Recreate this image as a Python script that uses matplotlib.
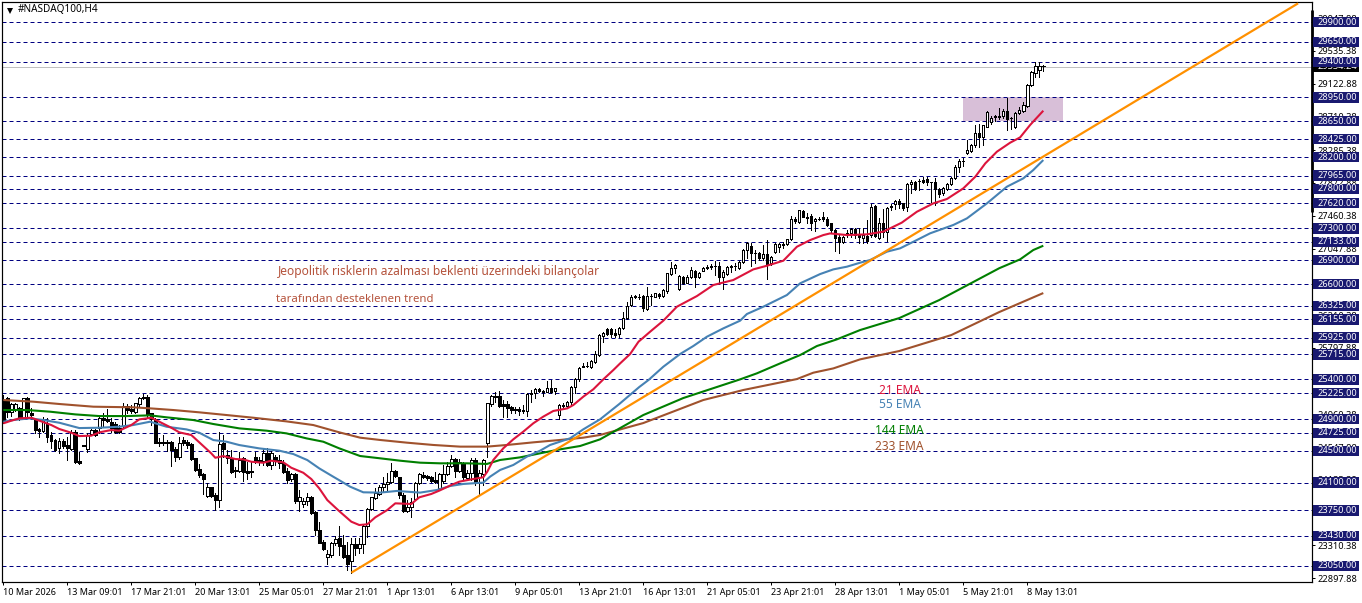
import matplotlib
matplotlib.use("Agg")
import matplotlib.pyplot as plt
from matplotlib.patches import Rectangle

plt.rcParams['font.family'] = ['Noto Sans', 'DejaVu Sans']

opens = [25140,25161,24993,25014,25035,24909,25161,24972,24896,24775,
24754,24854,24699,24636,24539,24623,24573,24523,24733,24371,
24569,24527,24707,24762,24783,24909,24896,24859,24833,24783,
24812,25064,25022,24993,25090,25174,25174,24972,24896,24611,
24611,24615,24615,24523,24418,24636,24615,24586,24405,24275,
24203,23930,24040,23943,23880,24594,24447,24405,24258,24250,
24405,24245,24245,24418,24384,24376,24468,24321,24418,24384,
24342,24250,24140,24208,23872,23830,23872,23922,23733,23502,
23347,23166,23187,23334,23398,23315,23188,23117,23327,23273,
23327,23554,23764,23902,23957,24041,24078,24112,24246,24167,
23944,23747,23797,23890,24091,24192,24183,24167,24133,24028,
24125,24209,24309,24393,24246,24343,24154,24217,24385,24167,
24209,24595,25090,25182,25191,25090,25090,25048,25023,25023,
25014,25006,25229,25224,25275,25241,25245,25287,25254,24951,
25077,25065,25119,25308,25401,25560,25564,25560,25614,25706,
25946,26030,26034,25979,25967,26042,26168,26336,26445,26437,
26453,26286,26453,26441,26474,26453,26516,26726,26798,26533,
26693,26617,26684,26768,26688,26768,26798,26819,26831,26831,
26693,26726,26819,26823,26806,26873,27028,27083,26995,26987,
26924,26978,26861,27007,27070,27104,27100,27163,27415,27385,
27524,27448,27461,27390,27423,27440,27419,27364,27280,27196,
27125,27247,27238,27289,27217,27176,27205,27217,27583,27176,
27364,27260,27566,27608,27642,27616,27566,27860,27885,27898,
27910,27923,27881,27881,27793,27751,27797,27856,27931,28070,
28149,28246,28280,28351,28506,28456,28582,28636,28708,28720,
28720,28783,28690,28573,28750,28779,28846,29106,29262,29295,29346]

closes = [24888,24993,25090,25090,24896,25161,24993,24947,24762,24754,
24888,24678,24623,24510,24623,24565,24531,24741,24363,24350,
24565,24699,24762,24699,24909,24888,24880,24783,24741,24733,
25064,25014,25006,25098,25161,25161,24951,24896,24602,24602,
24594,24602,24510,24426,24594,24594,24573,24397,24258,24195,
24140,24040,23930,23880,24586,24518,24405,24233,24245,24384,
24229,24225,24233,24363,24363,24476,24321,24468,24371,24342,
24237,24132,24203,23872,23914,23872,23914,23720,23502,23342,
23267,23200,23334,23389,23306,23168,23075,23327,23273,23327,
23554,23764,23915,23973,24049,24083,24112,24246,24183,23944,
23747,23797,23860,24091,24204,24175,24154,24125,24112,24204,
24209,24309,24393,24246,24364,24167,24217,24385,24112,24217,
24385,25098,25191,25195,25069,25069,25044,25014,25014,25006,
25002,25216,25216,25275,25250,25254,25287,25245,25287,25077,
25065,25119,25308,25401,25539,25570,25570,25631,25715,25954,
25979,25971,25967,25958,26042,26168,26323,26432,26441,26441,
26294,26453,26449,26483,26449,26525,26735,26798,26840,26701,
26617,26693,26777,26684,26735,26798,26819,26823,26827,26684,
26756,26819,26823,26823,26873,27028,27121,26987,26991,26932,
26978,26852,26936,27100,27104,27091,27163,27415,27389,27532,
27448,27431,27373,27419,27423,27415,27343,27280,27184,27125,
27196,27247,27289,27217,27196,27217,27142,27574,27205,27364,
27260,27562,27583,27646,27608,27553,27860,27885,27801,27898,
27889,27881,27881,27797,27734,27805,27856,27931,28070,28154,
28154,28288,28355,28506,28456,28598,28771,28695,28712,28699,
28783,28678,28687,28758,28792,28855,29106,29266,29346,29350,29350]

highs = [25203,25182,25098,25106,25048,25170,25182,25035,24909,24791,
24930,24909,24741,24644,24657,24644,24678,24762,24762,24489,
24573,24720,24770,24770,24930,24972,25022,24909,24867,24825,
25106,25090,25077,25106,25174,25216,25203,24972,24909,24657,
24699,24636,24623,24552,24678,24670,24636,24594,24413,24334,
24216,24090,24048,23964,24741,24699,24510,24510,24292,24489,
24426,24363,24363,24489,24426,24531,24531,24502,24447,24447,
24384,24279,24224,24216,24006,23901,23964,23930,23746,23607,
23376,23250,23347,23431,23554,23441,23357,23398,23398,23398,
23566,23776,23923,24028,24070,24175,24217,24343,24259,24175,
23965,23881,23902,24110,24217,24238,24196,24183,24238,24217,
24322,24364,24448,24406,24393,24364,24259,24406,24406,24259,
24393,25107,25203,25237,25254,25140,25132,25065,25048,25048,
25077,25224,25266,25291,25287,25266,25384,25392,25287,25086,
25098,25132,25317,25413,25552,25610,25623,25644,25761,25967,
26000,26042,26042,26030,26063,26252,26378,26462,26462,26470,
26462,26558,26474,26491,26491,26533,26743,26882,26848,26709,
26701,26709,26810,26777,26756,26810,26835,26848,26894,26882,
26777,26831,26840,26860,26890,27037,27133,27112,27028,27007,
27091,27154,26953,27112,27121,27125,27171,27461,27448,27535,
27532,27490,27477,27436,27448,27503,27440,27373,27289,27217,
27205,27280,27301,27301,27301,27301,27406,27608,27591,27427,
27541,27574,27604,27658,27667,27625,27868,27910,27898,27919,
27952,27952,27889,27940,27805,27818,27868,27952,28099,28170,
28183,28414,28363,28603,28615,28607,28783,28716,28729,28812,
28800,28938,28708,28771,28825,28897,29119,29287,29400,29400,29358]

lows = [24846,24930,24938,25006,24888,24900,24930,24930,24720,24678,
24741,24615,24531,24502,24476,24531,24384,24510,24342,24334,
24561,24489,24699,24686,24720,24804,24867,24741,24720,24720,
24783,24972,24980,24980,25056,25148,24909,24825,24594,24560,
24573,24497,24313,24376,24392,24573,24531,24384,24250,24174,
23956,23914,23914,23754,23788,24426,24342,24216,24174,24237,
24124,24149,24174,24342,24321,24321,24308,24266,24321,24279,
24224,24090,24124,23846,23746,23796,23817,23704,23439,23334,
23250,23074,23166,23313,23189,23147,23000,22966,23189,23210,
23210,23420,23755,23890,23944,23985,24007,24100,24175,23902,
23734,23734,23663,23881,24083,24154,24133,24112,24100,24007,
24091,24196,24293,24175,24230,24142,24133,24133,24070,23944,
24070,24427,25065,25119,25056,24922,24922,24972,24972,24951,
24972,24943,25119,25161,25237,25195,25237,25224,25212,24897,
25023,25056,25077,25233,25384,25552,25552,25543,25601,25698,
25874,25958,25937,25937,25929,26030,26155,26323,26420,26411,
26265,26273,26336,26432,26420,26432,26483,26714,26735,26525,
26600,26609,26672,26558,26672,26760,26785,26785,26714,26609,
26537,26714,26756,26777,26793,26861,26924,26827,26861,26903,
26903,26663,26840,26995,27007,27049,27091,27154,27373,27373,
27440,27373,27280,27272,27406,27398,27331,27259,27020,26995,
27112,27196,27188,27184,27113,27113,27121,27197,27188,27163,
27197,27146,27532,27541,27553,27532,27524,27742,27784,27784,
27868,27847,27637,27595,27692,27721,27784,27847,27919,28015,
28086,28238,28263,28330,28330,28351,28573,28615,28657,28674,
28687,28540,28548,28561,28741,28762,28834,29098,29211,29211,29287]

ema21_bars = [0,2,4,7,9,12,14,17,19,22,24,27,29,32,34,37,39,42,44,47,49,52,53,55,58,60,62,65,67,70,72,75,77,79,81,84,
              87,89,91,93,96,98,102,104,107,109,112,114,117,120,121,122.5,125,127.5,130,132.5,135,137.5,141,142.5,145,147.5,
              150,152.5,154.2,156.7,158.8,161.7,165,168.4,173.4,177.5,182.5,187.5,190.9,195,198.4,201.7,205,206.7,210.9,
              215.9,220,224.6,228.4,232.5,235.9,240,243,245.5,248.4,251.7,254.2,256.7,260]
ema21_vals = [24846,24880,24909,24917,24880,24825,24775,24728,24686,24691,24733,24762,24754,24825,24896,24917,24867,24791,24733,24699,24607,24468,24413,24434,24397,24392,24363,24350,24376,24355,24287,24224,24145,24027,23880,23740,
              23608,23566,23575,23663,23755,23839,23831,23915,23957,23999,24070,24112,24141,24167,24238,24385,24532,24645,24742,24847,24931,25002,25035,25077,25182,25275,
              25400,25517,25601,25719,25874,26000,26139,26315,26449,26588,26651,26785,26831,26894,27070,27154,27217,27238,27217,
              27226,27260,27373,27511,27616,27671,27805,27952,28120,28267,28380,28447,28603,28783]

ema55_bars = [0,2.5,6.7,10,14,19,24,29,32.5,36.7,40.8,45.8,49,52.5,55.8,59,64,69,72.5,76,79,82.5,84,
              86.7,90,94.2,98.4,104.2,108.4,111.7,115,120,121.7,124.2,127.5,130.9,134.2,136.7,141.7,145,149.2,
              154,159,161.3,165,169.2,172.5,175.9,180,184.2,185.9,190,195.9,199.2,204.2,207.5,210.9,214.2,
              216.7,220.9,224.2,228.4,231.7,237.5,240.9,245.9,250.9,255,257.5,260]
ema55_vals = [24867,24888,24909,24888,24854,24787,24791,24804,24825,24867,24804,24770,24728,24636,24615,24573,24531,24502,24460,24384,24279,24174,24130,
              24049,23978,23974,23995,23974,24007,24057,24083,24100,24175,24259,24322,24427,24502,24574,24658,24771,24897,
              25090,25304,25392,25559,25719,25820,25937,26042,26139,26223,26315,26462,26609,26726,26785,26819,26869,
              26903,27008,27050,27155,27239,27344,27427,27616,27826,27931,28036,28162]

ema144_bars = [0,6,11.7,18,24,30.8,36.7,40.8,47.5,52.5,59,65.8,70.8,75.8,80,84,
               89.2,94.2,99.2,104.2,109.2,115.9,120.9,124.2,129.2,134.2,139.2,144.2,149.2,
               160,170,184.2,188.4,194.2,199.2,203.4,208.4,214.2,224,234,249,254.2,257.5,260]
ema144_vals = [25014,25014,24993,24959,24938,24938,24947,24922,24888,24838,24783,24754,24720,24657,24615,24531,
               24435,24406,24376,24351,24343,24343,24335,24385,24418,24469,24519,24561,24645,
               24951,25165,25400,25476,25601,25706,25820,25904,26021,26172,26399,26800,26911,27029,27083]

ema233_bars = [0,7.5,14,22.5,32.5,36.7,42.5,49,55.8,62.5,70.8,77.5,84,
               89.2,94.2,100.9,107.5,114.2,120.9,125.9,132.5,139.2,145,149.2,
               160,175,185,198.4,202.5,207.5,214.2,224,237,249,260]
ema233_vals = [25140,25119,25090,25056,25048,25035,25014,24985,24951,24917,24871,24825,24733,
               24666,24637,24603,24574,24553,24553,24574,24607,24637,24666,24700,
               24850,25140,25266,25404,25484,25538,25652,25757,25958,26248,26487]

trend_bars = [87, 323.7]
trend_vals = [22966, 30135]

zone_bars = [240, 264.9]
zone_vals = [28650, 28950]

levels = [29900,29650,29400,28950,28650,28425,28200,27965,27800,27620,27300,27133,26900,
          26600,26325,26155,25925,25715,25400,25225,24900,24725,24500,24100,23750,23430,23050]
level_labels = ["%.2f" % v for v in levels]

axis_prices = [29947.88,29535.38,29122.88,28710.38,28285.38,27872.88,27460.38,27047.88,26622.88,
               26210.38,25797.88,25372.88,24960.38,24547.88,24135.38,23722.88,23310.38,22897.88]
axis_labels = ["%.2f" % v for v in axis_prices]

current_price = 29334.24

date_bars = list(range(0, 257, 16))
date_labels = ["10 Mar 2026","13 Mar 09:01","17 Mar 21:01","20 Mar 13:01","25 Mar 05:01","27 Mar 21:01",
               "1 Apr 13:01","6 Apr 13:01","9 Apr 05:01","13 Apr 21:01","16 Apr 13:01","21 Apr 05:01",
               "23 Apr 21:01","28 Apr 13:01","1 May 05:01","5 May 21:01","8 May 13:01"]

W, H = 1362, 603
L_PX, R_PX, T_PX, B_PX = 2.0, 1311.5, 2.0, 582.0

def bx(px):
    return (px - 3.3) / 4.0

def py(y):
    return 23050 + (566 - y) * 12.592

fig = plt.figure(figsize=(W / 100, H / 100), dpi=100, facecolor='white')
ax = fig.add_axes([L_PX / W, 1 - B_PX / H, (R_PX - L_PX) / W, (B_PX - T_PX) / H])
ax.set_xlim(bx(L_PX), bx(R_PX))
ax.set_ylim(py(B_PX), py(T_PX))
ax.set_facecolor('white')

PX = 0.72
NAVY = '#000080'
for s in ax.spines.values():
    s.set_linewidth(PX * 1.2)
    s.set_color('black')

# Zone
ax.add_patch(Rectangle((zone_bars[0], zone_vals[0]), zone_bars[1] - zone_bars[0], zone_vals[1] - zone_vals[0],
                       facecolor='#D8BFD8', edgecolor='none', zorder=1))

# Levels
for v in levels:
    ax.axhline(v, color=NAVY, lw=PX, linestyle=(0, (4, 3)), dash_capstyle='butt', zorder=1.5, antialiased=True)
ax.axhline(current_price, color='#C0C0C0', lw=PX, zorder=1.6, antialiased=False)

# Candles
for i, (o, h, l, c) in enumerate(zip(opens, highs, lows, closes)):
    ax.plot([i, i], [l, h], color='black', lw=PX, solid_capstyle='butt', zorder=2, antialiased=False)
    up = c >= o
    bot = min(o, c)
    ax.add_patch(Rectangle((i - 0.3, bot), 0.6, abs(c - o), facecolor='white' if up else 'black',
                           edgecolor='black', lw=PX, zorder=2.1, antialiased=False))

# EMAs and trend
ax.plot(ema233_bars, ema233_vals, color='#A0522D', lw=1.5, zorder=3, solid_capstyle='butt')
ax.plot(ema144_bars, ema144_vals, color='#007F00', lw=1.5, zorder=3.1, solid_capstyle='butt')
ax.plot(ema55_bars, ema55_vals, color='#4682B4', lw=1.5, zorder=3.2, solid_capstyle='butt')
ax.plot(ema21_bars, ema21_vals, color='#DC143C', lw=1.5, zorder=3.3, solid_capstyle='butt')
ax.plot(trend_bars, trend_vals, color='#FF9000', lw=1.6, zorder=3.4, solid_capstyle='butt')

# Axis
ax.yaxis.tick_right()
ax.set_yticks(axis_prices)
ax.set_yticklabels(axis_labels, fontsize=6.6, color='black')
ax.tick_params(axis='y', length=2, width=PX, pad=2.5, direction='out')
ax.set_xticks(date_bars)
ax.set_xticklabels(date_labels, fontsize=6.5, color='black', ha='left')
ax.tick_params(axis='x', length=2.5, width=PX, pad=1.5, direction='out')

# Right thick bar and price boxes
ax.plot([bx(1312.3), bx(1312.3)], [py(10), py(212)], color='black', lw=2.0, clip_on=False, zorder=4, solid_capstyle='butt')
box_l, box_w = bx(1313), 46 / 4.0
box_h = 10.4 * 12.592
ax.add_patch(Rectangle((box_l, current_price - box_h / 2), box_w, box_h, facecolor='black', edgecolor='none',
                       clip_on=False, zorder=5))
ax.text(bx(1317), current_price, "%.2f" % current_price, color='white', fontsize=6.6, va='center', ha='left',
        clip_on=False, zorder=5.1)
for v, lab in zip(levels, level_labels):
    ax.add_patch(Rectangle((box_l, v - box_h / 2), box_w, box_h, facecolor='#191970', edgecolor='none',
                           clip_on=False, zorder=6))
    ax.text(bx(1317), v, lab, color='white', fontsize=6.6, va='center', ha='left', clip_on=False, zorder=6.1)

# Title
ax.plot([bx(10)], [py(10.5)], marker='v', color='black', ms=4.5, mew=0, zorder=7, clip_on=False)
ax.text(bx(18), py(10), "#NASDAQ100,H4", fontsize=7.2, color='black', va='center', ha='left', zorder=7)

# Annotations
ax.text(bx(278), py(272), "Jeopolitik risklerin azalması beklenti üzerindeki bilançolar", fontsize=8.65,
        color='#B5533C', va='center', ha='left', zorder=7)
ax.text(bx(276), py(299), "tarafından desteklenen trend", fontsize=8.2, color='#B5533C', va='center', ha='left', zorder=7)
ax.text(bx(879), py(391), "21 EMA", fontsize=8.6, color='#DC143C', va='center', ha='left', zorder=7)
ax.text(bx(879), py(405), "55 EMA", fontsize=8.6, color='#4682B4', va='center', ha='left', zorder=7)
ax.text(bx(875), py(431), "144 EMA", fontsize=8.6, color='#007F00', va='center', ha='left', zorder=7)
ax.text(bx(875), py(447), "233 EMA", fontsize=8.6, color='#A0522D', va='center', ha='left', zorder=7)

fig.savefig("out.png", dpi=100, facecolor='white')
